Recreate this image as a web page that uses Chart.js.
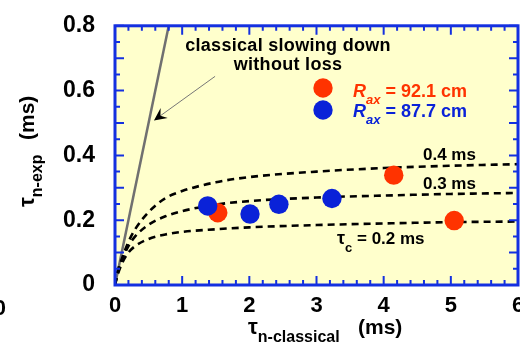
<!DOCTYPE html>
<html>
<head>
<meta charset="utf-8">
<script src="https://cdn.jsdelivr.net/npm/chart.js@4.4.1/dist/chart.umd.min.js"></script>
<style>
html, body { margin: 0; padding: 0; overflow: hidden; background: #fff; }
#wrap { width: 540px; height: 344px; }
</style>
</head>
<body>
<div id="wrap"><canvas id="chart" width="540" height="344"></canvas></div>
<script>
// tick labels
var xTicks = [0, 1, 2, 3, 4, 5, 6];
var yTicks = [0, 0.2, 0.4, 0.6, 0.8];

// measured points
var rax921 = [{x: 1.53, y: 0.223}, {x: 4.15, y: 0.339}, {x: 5.05, y: 0.199}];
var rax877 = [{x: 1.38, y: 0.244}, {x: 2.01, y: 0.219}, {x: 2.44, y: 0.249}, {x: 3.23, y: 0.267}];

// dashed curves
var curveX = [0, 0.03, 0.1, 0.2, 0.3, 0.5, 0.75, 1, 1.5, 2, 3, 4, 5, 6];
var tauC02 = [0, 0.025, 0.065, 0.1, 0.12, 0.142, 0.156, 0.164, 0.172, 0.178, 0.185, 0.19, 0.194, 0.196];
var tauC03 = [0, 0.03, 0.075, 0.12, 0.15, 0.186, 0.212, 0.228, 0.248, 0.259, 0.27, 0.276, 0.281, 0.284];
var tauC04 = [0, 0.035, 0.08, 0.133, 0.172, 0.225, 0.268, 0.29, 0.317, 0.333, 0.35, 0.361, 0.368, 0.373];

// classical slowing down without loss
var classicalX = [0, 0.8];
var classicalY = [0, 0.8];

var FONT = '"Liberation Sans", Arial, sans-serif';
var RED = '#ff3300';
var BLUE = '#0a22d8';
var FRAME = '#1430e0';

function pairs(xs, ys) {
  return xs.map(function(x, i) { return {x: x, y: ys[i]}; });
}

function dashed(vals) {
  return {
    type: 'line',
    data: pairs(curveX, vals),
    borderColor: '#000',
    borderWidth: 2.6,
    borderDash: [7, 5],
    pointRadius: 0,
    cubicInterpolationMode: 'monotone',
    order: 2
  };
}

function sub(ctx, x, y, main, small, mainFont, smallFont, drop) {
  ctx.font = mainFont;
  ctx.fillText(main, x, y);
  var w = ctx.measureText(main).width;
  ctx.font = smallFont;
  ctx.fillText(small, x + w, y + drop);
  return x + w + ctx.measureText(small).width;
}

var framePlugin = {
  id: 'frame',
  beforeDraw: function(chart) {
    var ctx = chart.ctx, a = chart.chartArea;
    ctx.save();
    ctx.fillStyle = '#fff';
    ctx.fillRect(0, 0, chart.width, chart.height);
    ctx.fillStyle = '#ffffcc';
    ctx.fillRect(a.left, a.top, a.right - a.left, a.bottom - a.top);
    ctx.restore();
  },
  afterDatasetsDraw: function(chart) {
    var ctx = chart.ctx, a = chart.chartArea;
    var xs = chart.scales.x, ys = chart.scales.y;
    ctx.save();
    ctx.strokeStyle = FRAME;
    ctx.lineWidth = 2;
    ctx.beginPath();
    var i, v, p, len;
    for (i = 0; i <= 30; i++) {
      v = i * 0.2;
      p = xs.getPixelForValue(v);
      len = (i % 5 === 0) ? 9 : 5;
      ctx.moveTo(p, a.bottom); ctx.lineTo(p, a.bottom - len);
      ctx.moveTo(p, a.top); ctx.lineTo(p, a.top + len);
    }
    for (i = 0; i <= 16; i++) {
      v = i * 0.05;
      p = ys.getPixelForValue(v);
      len = (i % 2 === 0) ? 9 : 5;
      ctx.moveTo(a.left, p); ctx.lineTo(a.left + len, p);
      ctx.moveTo(a.right, p); ctx.lineTo(a.right - len, p);
    }
    ctx.stroke();
    ctx.lineWidth = 3;
    ctx.strokeRect(a.left, a.top, a.right - a.left, a.bottom - a.top);

    // annotation
    ctx.fillStyle = '#000';
    ctx.textAlign = 'center';
    ctx.textBaseline = 'alphabetic';
    ctx.font = 'bold 18px ' + FONT;
    ctx.letterSpacing = '0.3px';
    ctx.fillText('classical slowing down', 288, 51);
    ctx.fillText('without loss', 288, 70);
    ctx.letterSpacing = '0px';

    // arrow
    var x0 = xs.getPixelForValue(1.49), y0 = ys.getPixelForValue(0.644);
    var x1 = xs.getPixelForValue(0.58), y1 = ys.getPixelForValue(0.508);
    var ang = Math.atan2(y1 - y0, x1 - x0);
    ctx.strokeStyle = '#777';
    ctx.lineWidth = 1;
    ctx.beginPath();
    ctx.moveTo(x0, y0); ctx.lineTo(x1 - 6 * Math.cos(ang), y1 - 6 * Math.sin(ang));
    ctx.stroke();
    ctx.fillStyle = '#000';
    ctx.beginPath();
    ctx.moveTo(x1, y1);
    ctx.lineTo(x1 - 14 * Math.cos(ang - 0.45), y1 - 14 * Math.sin(ang - 0.45));
    ctx.lineTo(x1 - 8 * Math.cos(ang), y1 - 8 * Math.sin(ang));
    ctx.lineTo(x1 - 14 * Math.cos(ang + 0.45), y1 - 14 * Math.sin(ang + 0.45));
    ctx.closePath();
    ctx.fill();

    // legend
    ctx.textAlign = 'left';
    ctx.fillStyle = RED;
    ctx.beginPath(); ctx.arc(323, 88, 9.7, 0, Math.PI * 2); ctx.fill();
    var e = sub(ctx, 353, 96.5, 'R', 'ax', 'italic bold 18px ' + FONT, 'italic bold 13px ' + FONT, 7);
    ctx.font = 'bold 18px ' + FONT;
    ctx.fillText(' = 92.1 cm', e, 96.5);
    ctx.fillStyle = BLUE;
    ctx.beginPath(); ctx.arc(323, 110, 9.7, 0, Math.PI * 2); ctx.fill();
    e = sub(ctx, 353, 116.7, 'R', 'ax', 'italic bold 18px ' + FONT, 'italic bold 13px ' + FONT, 7);
    ctx.font = 'bold 18px ' + FONT;
    ctx.fillText(' = 87.7 cm', e, 116.7);

    // curve labels
    ctx.fillStyle = '#000';
    ctx.font = 'bold 17px ' + FONT;
    ctx.fillText('0.4 ms', 423, 160);
    ctx.fillText('0.3 ms', 423, 189.3);
    e = sub(ctx, 337, 244, '\u03c4', 'c', 'bold 18px ' + FONT, 'bold 13px ' + FONT, 8);
    ctx.font = 'bold 17px ' + FONT;
    ctx.fillText(' = 0.2 ms', e, 244);

    // axis titles
    sub(ctx, 248, 334, '\u03c4', 'n-classical', 'bold 22px ' + FONT, 'bold 16px ' + FONT, 8);
    ctx.font = 'bold 21px ' + FONT;
    ctx.fillText('(ms)', 358, 334);

    ctx.save();
    ctx.translate(34, 207);
    ctx.rotate(-Math.PI / 2);
    sub(ctx, 0, 0, '\u03c4', 'n-exp', 'bold 22px ' + FONT, 'bold 16px ' + FONT, 8);
    ctx.font = 'bold 21px ' + FONT;
    ctx.fillText('(ms)', 67, 0);
    ctx.restore();

    // cut-off label from the neighbouring panel
    ctx.textAlign = 'right';
    ctx.font = 'bold 22px ' + FONT;
    ctx.fillText('0', 6, 315);
    ctx.restore();
  }
};

var ctx = document.getElementById('chart').getContext('2d');
var chart = new Chart(ctx, {
  type: 'scatter',
  data: {
    datasets: [
      {data: rax877, backgroundColor: BLUE, borderWidth: 0, pointRadius: 9.7, order: 0},
      {data: rax921, backgroundColor: RED, borderWidth: 0, pointRadius: 9.7, order: 1},
      dashed(tauC02),
      dashed(tauC03),
      dashed(tauC04),
      {
        type: 'line',
        data: pairs(classicalX, classicalY),
        borderColor: '#707070',
        borderWidth: 2.5,
        pointRadius: 0,
        order: 3
      }
    ]
  },
  options: {
    responsive: false,
    devicePixelRatio: 1,
    animation: false,
    events: [],
    layout: {padding: {top: 7, right: 22, left: 0, bottom: 0}},
    plugins: {legend: {display: false}, tooltip: {enabled: false}},
    scales: {
      x: {
        type: 'linear',
        min: 0, max: 6,
        afterBuildTicks: function(s) { s.ticks = xTicks.map(function(v) { return {value: v}; }); },
        afterFit: function(s) { s.height = 59; },
        grid: {display: false},
        border: {display: false},
        ticks: {color: '#000', padding: 0, maxRotation: 0, font: {family: FONT, size: 22, weight: 'bold'}}
      },
      y: {
        type: 'linear',
        min: 0, max: 0.8,
        afterBuildTicks: function(s) { s.ticks = yTicks.map(function(v) { return {value: v}; }); },
        afterFit: function(s) { s.width = 115; },
        grid: {display: false},
        border: {display: false},
        ticks: {color: '#000', padding: 12, font: {family: FONT, size: 23, weight: 'bold'}}
      }
    }
  },
  plugins: [framePlugin]
});
</script>
</body>
</html>
